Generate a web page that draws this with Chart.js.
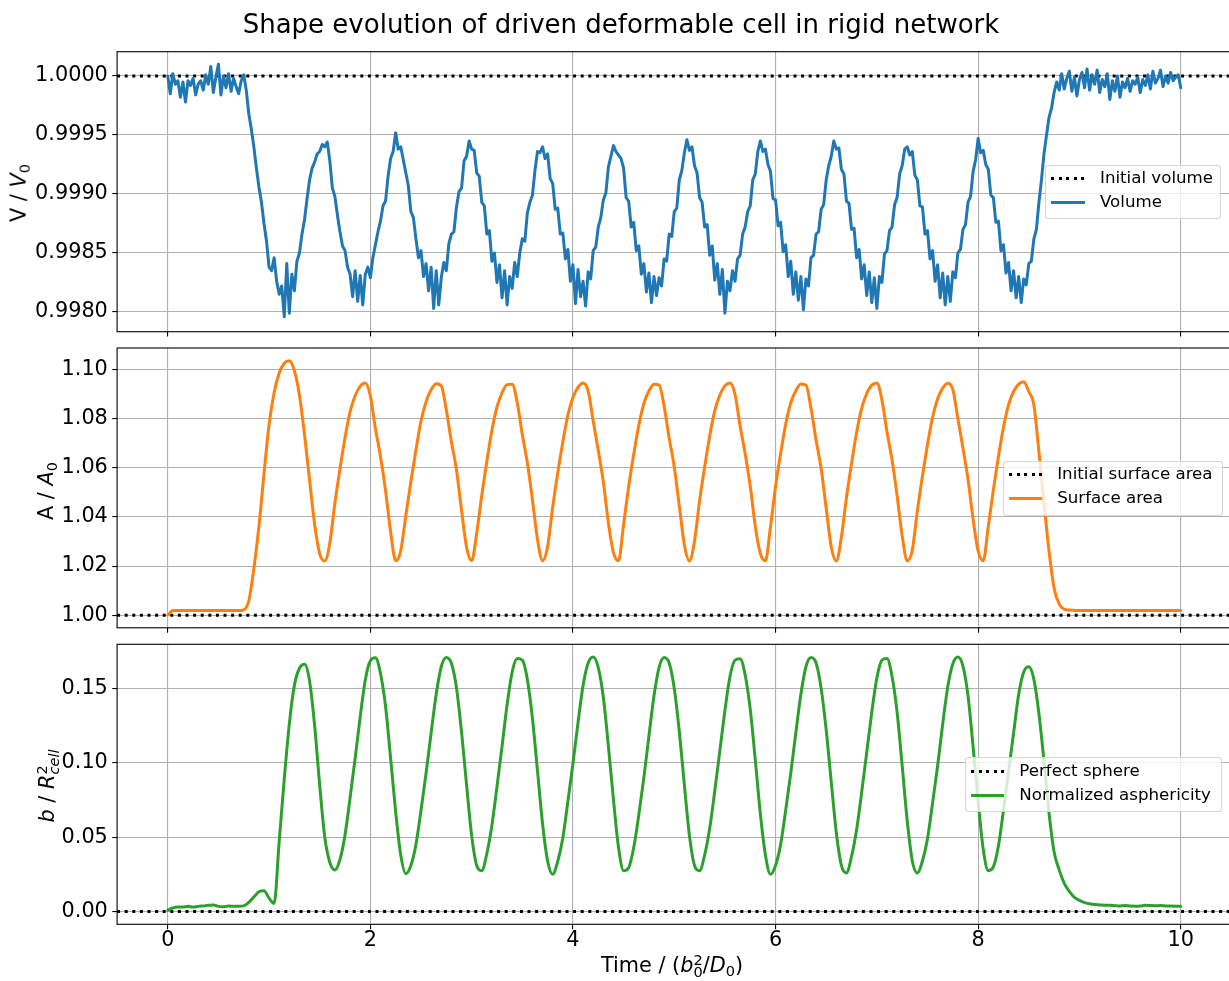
<!DOCTYPE html>
<html>
<head>
<meta charset="utf-8">
<script src="https://cdn.jsdelivr.net/npm/chart.js@4.4.0/dist/chart.umd.min.js"></script>
<style>
html,body{margin:0;padding:0;background:#fff;overflow:hidden;width:1229px;height:981px;}
body{position:relative;font-family:'DejaVu Sans',sans-serif;color:#000;}
canvas{position:absolute;left:0;top:0;}
.lbl{position:absolute;white-space:nowrap;font-size:20.8px;line-height:20.8px;}
.ylbl{transform:translate(-50%,-50%) rotate(-90deg);}
.xlbl{transform:translateX(-50%);}
.title{position:absolute;white-space:nowrap;font-size:26px;line-height:26px;transform:translateX(-50%);}
.sub{font-size:70%;position:relative;top:0.3em;}
.ss{display:inline-block;position:relative;font-size:70%;line-height:1;}
.ss .b{position:relative;top:0.35em;}
.ss .t{position:absolute;left:0;top:-0.5em;}
.legend{position:absolute;box-sizing:border-box;border:1px solid rgba(204,204,204,0.8);border-radius:3.3px;background:rgba(255,255,255,0.8);font-size:16.67px;}
.legend .hd{position:absolute;left:5px;width:33.4px;height:3px;}
.legend .dot{background:repeating-linear-gradient(to right,#000 0px,#000 3px,transparent 3px,transparent 7.6px);}
.legend .lt{position:absolute;left:53.7px;white-space:nowrap;line-height:20px;}
</style>
</head>
<body>
<canvas id="c1" width="1240" height="981" style="width:1240px;height:981px"></canvas>
<canvas id="c2" width="1240" height="981" style="width:1240px;height:981px"></canvas>
<canvas id="c3" width="1240" height="981" style="width:1240px;height:981px"></canvas>

<div class="title" style="left:621px;top:11px;">Shape evolution of driven deformable cell in rigid network</div>

<div class="lbl ylbl" style="left:19.9px;top:192.9px;">V / <i>V</i><span class="sub">0</span></div>
<div class="lbl ylbl" style="left:46.5px;top:491px;">A / <i>A</i><span class="sub">0</span></div>
<div class="lbl ylbl" style="left:46.5px;top:786px;"><i>b</i> / <i>R</i><span class="ss"><span class="b"><i>cell</i></span><span class="t">2</span></span></div>
<div class="lbl xlbl" style="left:672px;top:955px;">Time / (<i>b</i><span class="ss"><span class="b">0</span><span class="t">2</span></span>/<i>D</i><span class="sub">0</span>)</div>

<div class="legend" style="left:1045.3px;top:164.7px;width:175.4px;height:54.6px;">
  <div class="hd dot" style="top:11.4px"></div>
  <div class="lt" style="top:2.4px">Initial volume</div>
  <div class="hd" style="top:35.8px;background:#1f77b4"></div>
  <div class="lt" style="top:26.8px">Volume</div>
</div>
<div class="legend" style="left:1002.5px;top:460.7px;width:220px;height:55px;">
  <div class="hd dot" style="top:11.4px"></div>
  <div class="lt" style="top:2.4px">Initial surface area</div>
  <div class="hd" style="top:35.8px;background:#ff7f0e"></div>
  <div class="lt" style="top:26.8px">Surface area</div>
</div>
<div class="legend" style="left:964.6px;top:757.3px;width:257.7px;height:55px;">
  <div class="hd dot" style="top:11.4px"></div>
  <div class="lt" style="top:2.4px">Perfect sphere</div>
  <div class="hd" style="top:35.8px;background:#2ca02c"></div>
  <div class="lt" style="top:26.8px">Normalized asphericity</div>
</div>

<script>
// ---------------- DATA ----------------
// Tick values
const X_TICKS = [0, 2, 4, 6, 8, 10];
const VOL_TICKS = [0.998, 0.9985, 0.999, 0.9995, 1.0];
const AREA_TICKS = [1.00, 1.02, 1.04, 1.06, 1.08, 1.10];
const ASPH_TICKS = [0.00, 0.05, 0.10, 0.15];

// Reference levels
const INITIAL_VOLUME = 1.0;
const INITIAL_AREA = 1.0;
const PERFECT_SPHERE = 0.0;

// Volume V/V0, sampled every 0.025 time units from 0 to 10
const VOLUME = [
 1.00000,0.99985,1.00002,0.99993,0.99996,0.99982,0.99995,0.99978,
 0.99996,0.99992,0.99998,0.99984,0.99993,0.99996,0.99988,1.00001,
 0.99993,1.00008,0.99986,0.99999,1.00010,0.99984,1.00000,0.99990,
 1.00002,0.99987,0.99998,0.99991,0.99985,0.99996,1.00001,0.99988,
 0.99968,0.99955,0.99940,0.99922,0.99906,0.99893,0.99875,0.99860,
 0.99838,0.99835,0.99846,0.99826,0.99815,0.99822,0.99796,0.99841,
 0.99799,0.99832,0.99818,0.99843,0.99850,0.99866,0.99878,0.99896,
 0.99912,0.99922,0.99927,0.99934,0.99936,0.99942,0.99940,0.99944,
 0.99928,0.99905,0.99898,0.99882,0.99868,0.99856,0.99852,0.99838,
 0.99832,0.99813,0.99835,0.99809,0.99831,0.99806,0.99832,0.99838,
 0.99829,0.99846,0.99857,0.99868,0.99877,0.99890,0.99894,0.99915,
 0.99930,0.99936,0.99952,0.99938,0.99940,0.99929,0.99918,0.99907,
 0.99885,0.99880,0.99862,0.99846,0.99852,0.99830,0.99841,0.99818,
 0.99838,0.99803,0.99835,0.99806,0.99829,0.99842,0.99835,0.99858,
 0.99866,0.99868,0.99889,0.99902,0.99905,0.99928,0.99932,0.99945,
 0.99938,0.99937,0.99918,0.99915,0.99893,0.99890,0.99866,0.99869,
 0.99843,0.99850,0.99825,0.99840,0.99812,0.99835,0.99806,0.99830,
 0.99820,0.99842,0.99830,0.99850,0.99862,0.99860,0.99884,0.99893,
 0.99899,0.99920,0.99936,0.99935,0.99940,0.99930,0.99934,0.99913,
 0.99909,0.99887,0.99888,0.99866,0.99867,0.99845,0.99853,0.99826,
 0.99840,0.99807,0.99836,0.99813,0.99826,0.99805,0.99834,0.99828,
 0.99852,0.99855,0.99872,0.99880,0.99895,0.99901,0.99923,0.99932,
 0.99941,0.99936,0.99933,0.99930,0.99922,0.99897,0.99894,0.99872,
 0.99876,0.99852,0.99856,0.99832,0.99841,0.99817,0.99833,0.99808,
 0.99830,0.99814,0.99829,0.99822,0.99845,0.99843,0.99866,0.99864,
 0.99885,0.99888,0.99912,0.99920,0.99935,0.99946,0.99937,0.99940,
 0.99924,0.99918,0.99897,0.99893,0.99872,0.99874,0.99848,0.99856,
 0.99827,0.99841,0.99815,0.99836,0.99799,0.99826,0.99818,0.99835,
 0.99826,0.99845,0.99848,0.99866,0.99872,0.99885,0.99890,0.99912,
 0.99917,0.99936,0.99945,0.99936,0.99938,0.99925,0.99919,0.99896,
 0.99895,0.99873,0.99876,0.99851,0.99857,0.99830,0.99843,0.99815,
 0.99834,0.99810,0.99830,0.99802,0.99828,0.99822,0.99846,0.99848,
 0.99866,0.99868,0.99887,0.99891,0.99912,0.99924,0.99932,0.99945,
 0.99938,0.99939,0.99921,0.99917,0.99894,0.99892,0.99870,0.99871,
 0.99846,0.99853,0.99828,0.99840,0.99814,0.99834,0.99808,0.99829,
 0.99803,0.99830,0.99825,0.99849,0.99852,0.99869,0.99872,0.99891,
 0.99897,0.99917,0.99924,0.99938,0.99940,0.99933,0.99936,0.99916,
 0.99912,0.99890,0.99889,0.99866,0.99869,0.99845,0.99852,0.99826,
 0.99840,0.99812,0.99833,0.99806,0.99830,0.99809,0.99834,0.99829,
 0.99850,0.99853,0.99870,0.99874,0.99893,0.99898,0.99919,0.99929,
 0.99947,0.99935,0.99937,0.99925,0.99921,0.99899,0.99897,0.99876,
 0.99877,0.99852,0.99857,0.99833,0.99842,0.99818,0.99835,0.99812,
 0.99830,0.99808,0.99828,0.99823,0.99841,0.99843,0.99862,0.99870,
 0.99893,0.99912,0.99934,0.99950,0.99965,0.99973,0.99986,0.99995,
 0.99988,1.00002,0.99989,0.99998,1.00004,0.99987,0.99999,0.99983,
 0.99997,1.00003,0.99990,1.00006,0.99988,1.00001,0.99993,1.00005,
 0.99986,0.99997,0.99991,1.00002,0.99980,0.99996,0.99987,1.00000,
 0.99982,0.99995,0.99990,0.99998,0.99987,0.99996,0.99993,0.99999,
 0.99986,0.99997,0.99992,1.00001,0.99989,1.00004,0.99994,0.99998,
 1.00005,0.99991,1.00000,0.99994,1.00003,0.99996,0.99999,1.00001,
 0.99990
];

// Surface area A/A0, sampled every 0.05 time units from 0 to 10
const AREA = [
 1.0000,1.0019,1.0019,1.0019,1.0019,1.0019,1.0019,1.0019,1.0019,1.0019,
 1.0019,1.0019,1.0019,1.0019,1.0019,1.0022,1.0058,1.0190,1.0360,1.0575,
 1.0775,1.0905,1.0985,1.1025,1.1035,1.0995,1.0895,1.0735,1.0550,1.0370,
 1.0250,1.0221,1.0294,1.0456,1.0595,1.0722,1.0828,1.0893,1.0932,1.0945,
 1.0892,1.0760,1.0646,1.0507,1.0340,1.0222,1.0262,1.0405,1.0543,1.0672,
 1.0790,1.0869,1.0917,1.0942,1.0933,1.0835,1.0706,1.0592,1.0428,1.0276,
 1.0222,1.0334,1.0488,1.0626,1.0752,1.0847,1.0905,1.0938,1.0940,1.0865,
 1.0735,1.0620,1.0470,1.0308,1.0222,1.0280,1.0440,1.0580,1.0705,1.0815,
 1.0886,1.0927,1.0945,1.0912,1.0790,1.0670,1.0543,1.0375,1.0255,1.0222,
 1.0370,1.0523,1.0655,1.0773,1.0861,1.0912,1.0940,1.0937,1.0850,1.0720,
 1.0604,1.0445,1.0286,1.0221,1.0302,1.0466,1.0603,1.0729,1.0832,1.0896,
 1.0933,1.0945,1.0898,1.0770,1.0657,1.0526,1.0362,1.0250,1.0222,1.0360,
 1.0524,1.0657,1.0777,1.0864,1.0913,1.0941,1.0936,1.0842,1.0712,1.0597,
 1.0435,1.0278,1.0221,1.0318,1.0479,1.0616,1.0743,1.0841,1.0902,1.0936,
 1.0945,1.0876,1.0746,1.0632,1.0486,1.0323,1.0222,1.0265,1.0425,1.0565,
 1.0694,1.0805,1.0881,1.0924,1.0944,1.0918,1.0800,1.0680,1.0553,1.0390,
 1.0262,1.0222,1.0360,1.0510,1.0645,1.0765,1.0856,1.0910,1.0940,1.0950,
 1.0910,1.0855,1.0665,1.0455,1.0260,1.0110,1.0045,1.0025,1.0021,1.0020,
 1.0019,1.0019,1.0019,1.0019,1.0019,1.0019,1.0019,1.0019,1.0019,1.0019,
 1.0019,1.0019,1.0019,1.0019,1.0019,1.0019,1.0019,1.0019,1.0019,1.0019,
 1.0019
];

// Normalized asphericity b/R_cell^2, sampled every 0.05 time units from 0 to 10
const ASPHERICITY = [
 0.0010,0.0025,0.0030,0.0030,0.0035,0.0030,0.0035,0.0038,0.0042,0.0045,
 0.0035,0.0033,0.0037,0.0035,0.0035,0.0038,0.0062,0.0098,0.0133,0.0140,
 0.0090,0.0055,0.0470,0.0890,0.1260,0.1520,0.1635,0.1662,0.1550,0.1250,
 0.0850,0.0500,0.0330,0.0280,0.0350,0.0515,0.0765,0.1030,0.1310,0.1556,
 0.1685,0.1705,0.1600,0.1380,0.1030,0.0670,0.0380,0.0255,0.0310,0.0450,
 0.0680,0.0930,0.1200,0.1460,0.1645,0.1707,0.1668,0.1504,0.1209,0.0850,
 0.0510,0.0310,0.0275,0.0390,0.0580,0.0840,0.1110,0.1390,0.1610,0.1700,
 0.1690,0.1560,0.1300,0.0946,0.0590,0.0340,0.0250,0.0338,0.0495,0.0740,
 0.0995,0.1270,0.1520,0.1670,0.1710,0.1640,0.1440,0.1110,0.0750,0.0430,
 0.0275,0.0295,0.0430,0.0650,0.0900,0.1180,0.1450,0.1640,0.1707,0.1670,
 0.1500,0.1210,0.0850,0.0510,0.0310,0.0275,0.0380,0.0560,0.0810,0.1080,
 0.1350,0.1580,0.1690,0.1699,0.1590,0.1360,0.1020,0.0656,0.0380,0.0250,
 0.0310,0.0450,0.0680,0.0930,0.1200,0.1460,0.1645,0.1707,0.1670,0.1500,
 0.1220,0.0870,0.0530,0.0310,0.0260,0.0370,0.0550,0.0800,0.1070,0.1340,
 0.1570,0.1690,0.1700,0.1580,0.1340,0.0980,0.0610,0.0340,0.0260,0.0340,
 0.0490,0.0730,0.0980,0.1260,0.1510,0.1665,0.1710,0.1650,0.1450,0.1110,
 0.0740,0.0420,0.0275,0.0300,0.0440,0.0680,0.0940,0.1200,0.1460,0.1610,
 0.1645,0.1560,0.1330,0.1010,0.0660,0.0400,0.0280,0.0190,0.0135,0.0095,
 0.0075,0.0060,0.0052,0.0047,0.0045,0.0043,0.0042,0.0040,0.0038,0.0040,
 0.0037,0.0036,0.0038,0.0042,0.0040,0.0039,0.0040,0.0038,0.0037,0.0036,
 0.0035
];

// Sampling grids (time in units of b0^2/D0)
const TIME_FINE = VOLUME.map((_, i) => i * 0.025);
const TIME_COARSE = AREA.map((_, i) => i * 0.05);

// ---------------- LAYOUT ----------------
const CANVAS_W = 1240, CANVAS_H = 981;
const AX_LEFT = 117.1, AX_RIGHT = 1231.4, X_AXIS_H = 40;
const X_MIN = -0.5, X_MAX = 10.5;
const LW = 3.0;

Chart.defaults.font.family = "'DejaVu Sans', sans-serif";
Chart.defaults.color = '#000';

const framePlugin = {
  id: 'frame',
  afterDraw(chart) {
    const a = chart.chartArea, ctx = chart.ctx;
    ctx.save();
    ctx.strokeStyle = '#000';
    ctx.lineWidth = 1.1;
    ctx.strokeRect(a.left, a.top, a.right - a.left, a.bottom - a.top);
    ctx.restore();
  }
};

function series(times, values, color, smooth) {
  return {
    data: values.map((v, i) => ({x: times[i], y: v})),
    borderColor: color, borderWidth: LW, pointRadius: 0,
    borderJoinStyle: 'round', borderCapStyle: 'round',
    tension: 0, cubicInterpolationMode: smooth ? 'monotone' : 'default',
    fill: false
  };
}
function refLine(level) {
  return {
    data: [{x: X_MIN, y: level}, {x: X_MAX, y: level}],
    borderColor: '#000', borderWidth: LW, borderDash: [3.0, 4.6],
    borderCapStyle: 'butt', pointRadius: 0, fill: false
  };
}

function makeChart(id, top, bottom, yMin, yMax, yTicks, yFmt, showX, datasets) {
  const gridOpts = {color: '#b0b0b0', lineWidth: 1.1, tickColor: '#000', tickLength: 4.86, tickWidth: 1.1, drawTicks: true};
  return new Chart(document.getElementById(id), {
    type: 'line',
    data: {datasets},
    options: {
      responsive: false, animation: false, events: [], devicePixelRatio: 1,
      layout: {padding: {left: 0, right: CANVAS_W - AX_RIGHT, top: top, bottom: CANVAS_H - bottom - X_AXIS_H}},
      plugins: {legend: {display: false}, tooltip: {enabled: false}},
      scales: {
        x: {
          type: 'linear', min: X_MIN, max: X_MAX,
          afterBuildTicks: s => { s.ticks = X_TICKS.map(v => ({value: v})); },
          afterFit: s => { s.height = X_AXIS_H; },
          grid: gridOpts, border: {display: false},
          ticks: {display: showX, color: '#000', font: {size: 20.8, lineHeight: 1}, padding: 1,
                  maxRotation: 0, autoSkip: false, callback: v => String(v)}
        },
        y: {
          type: 'linear', min: yMin, max: yMax,
          afterBuildTicks: s => { s.ticks = yTicks.map(v => ({value: v})); },
          afterFit: s => { s.width = AX_LEFT; },
          grid: gridOpts, border: {display: false},
          ticks: {color: '#000', font: {size: 20.8}, padding: 4.4, autoSkip: false, callback: yFmt}
        }
      }
    },
    plugins: [framePlugin]
  });
}

makeChart('c1', 51.7, 331.7, 0.997833, 1.000206, VOL_TICKS, v => v.toFixed(4), false,
  [series(TIME_FINE, VOLUME, '#1f77b4', false), refLine(INITIAL_VOLUME)]);
makeChart('c2', 348, 627.8, 0.9949, 1.1087, AREA_TICKS, v => v.toFixed(2), false,
  [series(TIME_COARSE, AREA, '#ff7f0e', true), refLine(INITIAL_AREA)]);
makeChart('c3', 644.3, 924.3, -0.00855, 0.1796, ASPH_TICKS, v => v.toFixed(2), true,
  [series(TIME_COARSE, ASPHERICITY, '#2ca02c', true), refLine(PERFECT_SPHERE)]);
</script>
</body>
</html>
